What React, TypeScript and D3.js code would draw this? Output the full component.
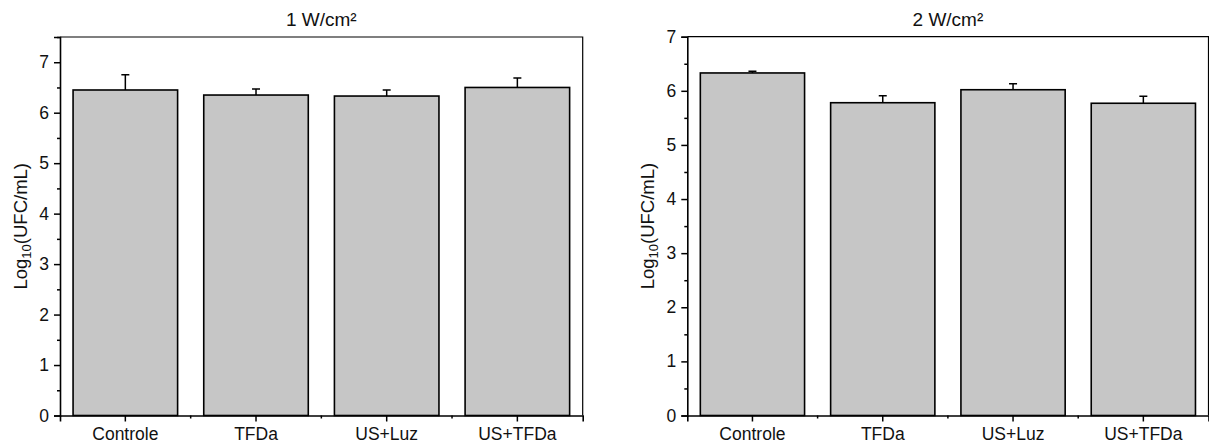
import React, { useRef, useEffect } from "react";
import * as d3 from "d3";

const categories = ["Controle", "TFDa", "US+Luz", "US+TFDa"];
const means1W = [6.45, 6.35, 6.33, 6.5];
const errors1W = [0.3, 0.12, 0.12, 0.19];
const means2W = [6.33, 5.78, 6.02, 5.77];
const errors2W = [0.03, 0.13, 0.11, 0.13];
const yTicks = [0, 1, 2, 3, 4, 5, 6, 7];
const yMinor1W = [0.5, 1.5, 2.5, 3.5, 4.5, 5.5, 6.5, 7.5];
const yMinor2W = [0.5, 1.5, 2.5, 3.5, 4.5, 5.5, 6.5];

const FONT = "'Liberation Sans', Arial, sans-serif";

type Panel = {
  title: string;
  means: number[];
  errors: number[];
  yMax: number;
  minor: number[];
  left: number;
  right: number;
  top: number;
  bottom: number;
  labelX: number;
};

const panels: Panel[] = [
  { title: "1 W/cm²", means: means1W, errors: errors1W, yMax: 7.5, minor: yMinor1W, left: 60, right: 582.7, top: 37, bottom: 415.5, labelX: 21 },
  { title: "2 W/cm²", means: means2W, errors: errors2W, yMax: 7, minor: yMinor2W, left: 687.3, right: 1208.5, top: 36.7, bottom: 415.5, labelX: 648 },
];

const App = () => {
  const ref = useRef<SVGSVGElement>(null);

  useEffect(() => {
    const svg = d3.select(ref.current);
    svg.selectAll("*").remove();

    panels.forEach((p) => {
      const x = d3.scaleBand().domain(categories).range([p.left, p.right]).paddingInner(0.2).paddingOuter(0.1);
      const y = d3.scaleLinear().domain([0, p.yMax]).range([p.bottom, p.top]);
      const g = svg.append("g");

      // bars
      g.selectAll("rect.bar")
        .data(p.means)
        .join("rect")
        .attr("class", "bar")
        .attr("x", (d, i) => x(categories[i])!)
        .attr("width", x.bandwidth())
        .attr("y", (d) => y(d))
        .attr("height", (d) => y(0) - y(d))
        .attr("fill", "#c6c6c6")
        .attr("stroke", "#000")
        .attr("stroke-width", 1.6);

      // error bars (upper only)
      const cx = (i: number) => x(categories[i])! + x.bandwidth() / 2;
      g.selectAll("path.err")
        .data(p.means)
        .join("path")
        .attr("class", "err")
        .attr("d", (d, i) => {
          const top = y(d + p.errors[i]);
          return `M${cx(i)},${y(d)}V${top}M${cx(i) - 4},${top}H${cx(i) + 4}`;
        })
        .attr("stroke", "#000")
        .attr("stroke-width", 1.5)
        .attr("fill", "none");

      // frame top & right
      g.append("path")
        .attr("d", `M${p.left},${p.top}H${p.right}V${p.bottom}`)
        .attr("stroke", "#000")
        .attr("stroke-width", 1.2)
        .attr("fill", "none");

      // y axis
      const ya = g.append("g").attr("transform", `translate(${p.left},0)`)
        .call(d3.axisLeft(y).tickValues(yTicks).tickSize(6).tickPadding(5).tickFormat(d3.format("d")));
      g.append("g").attr("transform", `translate(${p.left},0)`)
        .call(d3.axisLeft(y).tickValues(p.minor).tickSize(3).tickFormat(() => ""))
        .select(".domain").remove();

      // x axis
      const xa = g.append("g").attr("transform", `translate(0,${p.bottom})`)
        .call(d3.axisBottom(x).tickSize(6).tickPadding(5));
      const minorX = d3.range(1, categories.length).map((i) => p.left + i * x.step());
      g.append("g").selectAll("line")
        .data(minorX)
        .join("line")
        .attr("x1", (d) => d).attr("x2", (d) => d)
        .attr("y1", p.bottom).attr("y2", p.bottom + 3)
        .attr("stroke", "#000").attr("stroke-width", 1.5);

      [ya, xa].forEach((a) => {
        a.select(".domain").attr("stroke-width", 1.6);
        a.selectAll("line").attr("stroke-width", 1.5);
        a.selectAll("text").attr("font-family", FONT).attr("font-size", 17.5).attr("fill", "#111");
      });
      g.selectAll("g.tick line").attr("stroke-width", 1.5);
      xa.selectAll("text").attr("dy", "0.75em");

      // title
      g.append("text")
        .attr("x", (p.left + p.right) / 2)
        .attr("y", 26)
        .attr("text-anchor", "middle")
        .attr("font-family", FONT)
        .attr("font-size", 19)
        .attr("fill", "#111")
        .text(p.title);

      // y label
      const lbl = g.append("text")
        .attr("transform", `translate(${p.labelX + 6},${(p.top + p.bottom) / 2}) rotate(-90)`)
        .attr("text-anchor", "middle")
        .attr("font-family", FONT)
        .attr("font-size", 18.5)
        .attr("fill", "#111");
      lbl.append("tspan").text("Log");
      lbl.append("tspan").attr("font-size", 13).attr("dy", 4).text("10");
      lbl.append("tspan").attr("dy", -4).text("(UFC/mL)");
    });
  }, []);

  return (
    <div id="chartArea">
      <svg ref={ref} width={1209} height={446} style={{ position: "absolute", left: 0, top: 0, background: "#fff" }}></svg>
    </div>
  );
};

export default App;
